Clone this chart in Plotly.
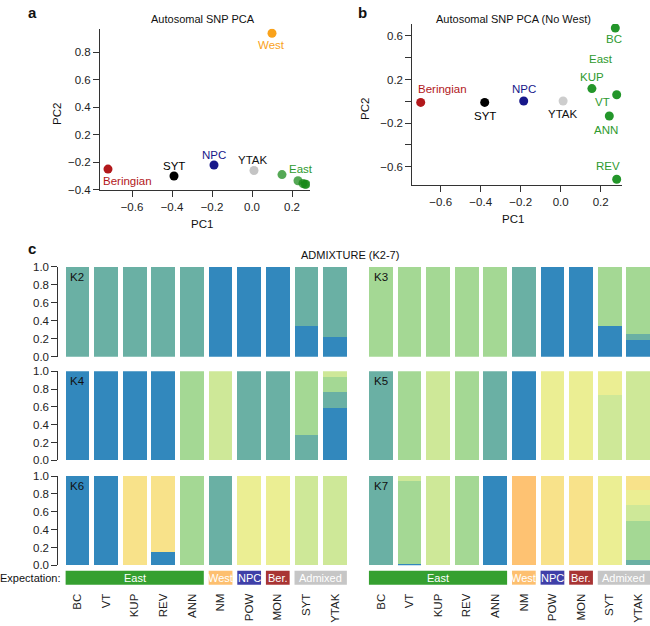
import plotly.graph_objects as go

W, H = 650, 626
FONT = "Liberation Sans, Arial, sans-serif"

# ---- panel a: autosomal SNP PCA ----
a_names = ["Beringian", "SYT", "NPC", "YTAK", "West"]
a_pc1 = [-0.72, -0.39, -0.19, 0.01, 0.10]
a_pc2 = [-0.25, -0.30, -0.22, -0.26, 0.94]
a_east_pc1 = [0.15, 0.23, 0.255, 0.265, 0.27]
a_east_pc2 = [-0.29, -0.335, -0.355, -0.36, -0.36]
a_yticks = [0.8, 0.6, 0.4, 0.2, -0.2, -0.4]

# ---- panel b: PCA without West ----
b_names = ["Beringian", "SYT", "NPC", "YTAK", "KUP", "VT", "ANN", "BC", "REV"]
b_pc1 = [-0.70, -0.38, -0.185, 0.012, 0.156, 0.28, 0.243, 0.273, 0.28]
b_pc2 = [-0.01, -0.01, 0.003, 0.003, 0.117, 0.06, -0.135, 0.673, -0.715]
b_yticks = [0.6, 0.2, -0.2, -0.6]
b_yminor = [0.4, 0.0, -0.4]
pc1_ticks = [-0.6, -0.4, -0.2, 0.0, 0.2]

# ---- panel c: ADMIXTURE K2-7 ----
pops = ["BC", "VT", "KUP", "REV", "ANN", "NM", "POW", "MON", "SYT", "YTAK"]

k2_blue = [0, 0, 0, 0, 0, 1, 1, 1, 0.34, 0.22]
k2_teal = [1, 1, 1, 1, 1, 0, 0, 0, 0.66, 0.78]

k3_blue = [0, 0, 0, 0, 0, 0, 1, 1, 0.34, 0.19]
k3_teal = [0, 0, 0, 0, 0, 1, 0, 0, 0, 0.065]
k3_lgreen = [1, 1, 1, 1, 1, 0, 0, 0, 0.66, 0.745]

k4_blue = [1, 1, 1, 1, 0, 0, 0, 0, 0, 0.59]
k4_teal = [0, 0, 0, 0, 0, 0, 1, 1, 0.29, 0.175]
k4_lgreen = [0, 0, 0, 0, 1, 0, 0, 0, 0.71, 0.17]
k4_ygreen = [0, 0, 0, 0, 0, 1, 0, 0, 0, 0.065]

k5_blue = [0, 0, 0, 0, 0, 1, 0, 0, 0, 0]
k5_teal = [1, 0, 0, 0, 1, 0, 0, 0, 0, 0]
k5_lgreen = [0, 1, 0, 1, 0, 0, 0, 0, 0, 0]
k5_ygreen = [0, 0, 1, 0, 0, 0, 0, 0, 0.73, 1]
k5_yellow = [0, 0, 0, 0, 0, 0, 1, 1, 0.27, 0]

k6_blue = [1, 1, 0, 0.15, 0, 0, 0, 0, 0, 0]
k6_teal = [0, 0, 0, 0, 0, 1, 0, 0, 0, 0]
k6_lgreen = [0, 0, 0, 0, 1, 0, 0, 0, 0, 0]
k6_ygreen = [0, 0, 0, 0, 0, 0, 0, 0, 1, 1]
k6_yellow = [0, 0, 0, 0, 0, 0, 1, 1, 0, 0]
k6_yorange = [0, 0, 1, 0.85, 0, 0, 0, 0, 0, 0]

k7_blue = [0, 0.012, 0, 0, 1, 0, 0, 0, 0, 0]
k7_teal = [1, 0, 0, 0, 0, 0, 0, 0, 0, 0.055]
k7_lgreen = [0, 0.933, 0, 1, 0, 0, 0, 0, 0, 0.44]
k7_ygreen = [0, 0.055, 1, 0, 0, 0, 0, 0, 0, 0.18]
k7_yellow = [0, 0, 0, 0, 0, 0, 0, 0, 1, 0.175]
k7_yorange = [0, 0, 0, 0, 0, 0, 1, 1, 0, 0.15]
k7_orange = [0, 0, 0, 0, 0, 1, 0, 0, 0, 0]

groups = ["East", "West", "NPC", "Ber.", "Admixed"]
group_first = [0, 5, 6, 7, 8]
group_last = [4, 5, 6, 7, 9]
group_colors = ["#35A030", "#FDBF6F", "#3F3FA8", "#A83434", "#C6C6C6"]

cl = {
    "blue": "#3288BD", "teal": "#6AB0A4", "lgreen": "#A4D894",
    "ygreen": "#CEE898", "yellow": "#EBEE93", "yorange": "#F8E28A",
    "orange": "#FEC272",
}
order = ["blue", "teal", "lgreen", "ygreen", "yellow", "yorange", "orange"]

admix = [
    ("K2", {"blue": k2_blue, "teal": k2_teal}),
    ("K3", {"blue": k3_blue, "teal": k3_teal, "lgreen": k3_lgreen}),
    ("K4", {"blue": k4_blue, "teal": k4_teal, "lgreen": k4_lgreen, "ygreen": k4_ygreen}),
    ("K5", {"blue": k5_blue, "teal": k5_teal, "lgreen": k5_lgreen, "ygreen": k5_ygreen,
            "yellow": k5_yellow}),
    ("K6", {"blue": k6_blue, "teal": k6_teal, "lgreen": k6_lgreen, "ygreen": k6_ygreen,
            "yellow": k6_yellow, "yorange": k6_yorange}),
    ("K7", {"blue": k7_blue, "teal": k7_teal, "lgreen": k7_lgreen, "ygreen": k7_ygreen,
            "yellow": k7_yellow, "yorange": k7_yorange, "orange": k7_orange}),
]


def px(p):
    return p / W


def py(p):
    return 1 - p / H


def ybrk(v):
    # panel a y axis is broken between 0.2 and -0.2
    return v if v > 0 else v + 0.2


def mtxt(v):
    return f"{v:.1f}".replace("-", "\u2212")


AX = dict(showgrid=False, zeroline=False, showline=True, linecolor="#333",
          linewidth=1, ticks="outside", ticklen=6, tickcolor="#333",
          tickfont=dict(size=11.5, color="#222"))

fig = go.Figure()
ann = []
shapes = []


def label(**kw):
    d = dict(showarrow=False, xanchor="center", yanchor="middle")
    d.update(kw)
    ann.append(d)


# ---- panel a ----
a_cols = ["#B2181B", "#000000", "#17178A", "#C4C4C4", "#F9A21B"]
fig.add_trace(go.Scatter(x=a_east_pc1, y=[ybrk(v) for v in a_east_pc2], mode="markers",
                         marker=dict(size=9, color="rgba(20,135,20,0.72)"),
                         xaxis="x", yaxis="y", showlegend=False))
fig.add_trace(go.Scatter(x=a_pc1, y=[ybrk(v) for v in a_pc2], mode="markers",
                         marker=dict(size=9, color=a_cols),
                         xaxis="x", yaxis="y", showlegend=False))
a_lab_cols = ["#B2181B", "#000000", "#17178A", "#111111", "#F9A21B"]
a_shift = [(19, -12), (0, 10), (0, 10), (-1, 10), (-1, -12)]
for n, x, y, c, (dx, dy) in zip(a_names, a_pc1, a_pc2, a_lab_cols, a_shift):
    label(x=x, y=ybrk(y), xref="x", yref="y", text=n, xshift=dx, yshift=dy,
          font=dict(size=11.5, color=c))
label(x=a_east_pc1[0], y=ybrk(a_east_pc2[0]), xref="x", yref="y", text="East",
      xshift=19, yshift=6, font=dict(size=11.5, color="#2E9A2E"))

fig.update_layout(
    xaxis=dict(AX, domain=[px(100), px(310)], range=[-0.76, 0.29],
               tickvals=pc1_ticks, ticktext=[mtxt(v) for v in pc1_ticks], anchor="y"),
    yaxis=dict(AX, domain=[py(188), py(23)], range=[-0.205, 0.974],
               tickvals=[ybrk(v) for v in a_yticks], ticktext=[mtxt(v) for v in a_yticks],
               anchor="x"),
)

# ---- panel b ----
b_cols = ["#B2181B", "#000000", "#17178A", "#CDCDCD"] + ["#23962A"] * 5
fig.add_trace(go.Scatter(x=b_pc1, y=b_pc2, mode="markers",
                         marker=dict(size=9, color=b_cols),
                         xaxis="x2", yaxis="y2", showlegend=False))
b_lab_cols = ["#B2181B", "#000000", "#17178A", "#111111"] + ["#2E9A2E"] * 5
b_shift = [(22, 13), (0, -14), (0, 12), (0, -13), (0, 12), (-14, -7), (-3, -14), (-1, -11), (-9, 13)]
for n, x, y, c, (dx, dy) in zip(b_names, b_pc1, b_pc2, b_lab_cols, b_shift):
    label(x=x, y=y, xref="x2", yref="y2", text=n, xshift=dx, yshift=dy,
          font=dict(size=11.5, color=c))
label(x=b_pc1[7], y=b_pc2[7], xref="x2", yref="y2", text="East",
      xshift=-14, yshift=-31, font=dict(size=11.5, color="#2E9A2E"))

fig.update_layout(
    xaxis2=dict(AX, domain=[px(412.3), px(621.7)], range=[-0.742, 0.305],
                tickvals=pc1_ticks, ticktext=[mtxt(v) for v in pc1_ticks], anchor="y2"),
    yaxis2=dict(AX, domain=[py(182.7), py(18.3)], range=[-0.77, 0.71],
                tickvals=b_yticks, ticktext=[mtxt(v) for v in b_yticks], anchor="x2",
                minor=dict(tickvals=b_yminor, ticks="outside", ticklen=6, tickcolor="#333")),
)

# ---- panel c ----
row_top = [266, 372.3, 479.3]
row_bot = [357.5, 463.3, 570.3]
for i, (kname, comps) in enumerate(admix):
    n = i + 3
    col, row = i % 2, i // 2
    xa, ya = f"x{n}", f"y{n}"
    for c in order:
        if c in comps:
            fig.add_trace(go.Bar(x=list(range(len(pops))), y=comps[c], marker_color=cl[c],
                                 marker_line_width=0, xaxis=xa, yaxis=ya, showlegend=False))
    bottom = row == 2
    xdef = dict(showgrid=False, zeroline=False, showline=False, ticks="",
                anchor=ya, showticklabels=bottom)
    if col == 0:
        xdef.update(domain=[px(58.3), px(349.3)], range=[-0.671, 9.5])
    else:
        xdef.update(domain=[px(366.5), 1.0], range=[-0.5, 9.41])
    if bottom:
        xdef.update(tickvals=list(range(len(pops))), ticktext=pops, tickangle=-90,
                    ticklabelstandoff=25, tickfont=dict(size=11.5, color="#222"))
    ydef = dict(domain=[py(row_bot[row]), py(row_top[row])], range=[0, 1], anchor=xa)
    if col == 0:
        ydef.update(AX, tickvals=[0, 0.2, 0.4, 0.6, 0.8, 1.0], tickformat=".1f")
    else:
        ydef.update(visible=False)
    fig.update_layout({f"xaxis{n}": xdef, f"yaxis{n}": ydef})
    label(x=0, y=0.89, xref=xa, yref=ya, text=kname, font=dict(size=11.5, color="#111"))

# expectation strip
for xa in ["x7", "x8"]:
    for g, a, b, c in zip(groups, group_first, group_last, group_colors):
        shapes.append(dict(type="rect", xref=xa, yref="paper", x0=a - 0.415, x1=b + 0.415,
                           y0=py(590), y1=py(575.7), fillcolor=c, line_width=0, layer="above"))
        label(x=(a + b) / 2, y=py(583), xref=xa, yref="paper", text=g,
              font=dict(size=11, color="white"))
label(x=px(63), y=py(583), xref="paper", yref="paper", text="Expectation:",
      xanchor="right", font=dict(size=11, color="#111"))

# titles and labels
for t, x, y, s, b in [
    ("a", 32, 7, 15, True), ("b", 362, 7, 15, True), ("c", 32, 247, 15, True),
    ("Autosomal SNP PCA", 202.5, 13, 11, False),
    ("Autosomal SNP PCA (No West)", 513, 13, 11, False),
    ("ADMIXTURE (K2-7)", 350, 254, 11, False),
    ("PC1", 202, 222, 11.5, False), ("PC1", 513, 217, 11.5, False),
]:
    label(x=px(x), y=py(y), xref="paper", yref="paper",
          text=f"<b>{t}</b>" if b else t, font=dict(size=s, color="#111"))
for x, y in [(57, 110), (365, 105)]:
    label(x=px(x), y=py(y), xref="paper", yref="paper", text="PC2", textangle=-90,
          font=dict(size=11.5, color="#111"))

fig.update_layout(
    width=W, height=H, autosize=False,
    margin=dict(l=0, r=0, t=0, b=0),
    paper_bgcolor="white", plot_bgcolor="white",
    barmode="stack", bargap=0.17,
    font=dict(family=FONT, size=11.5, color="#111"),
    annotations=ann, shapes=shapes, showlegend=False,
)

fig.write_html("out.html", config={"displayModeBar": False},
               post_script="document.body.style.margin='0';")
